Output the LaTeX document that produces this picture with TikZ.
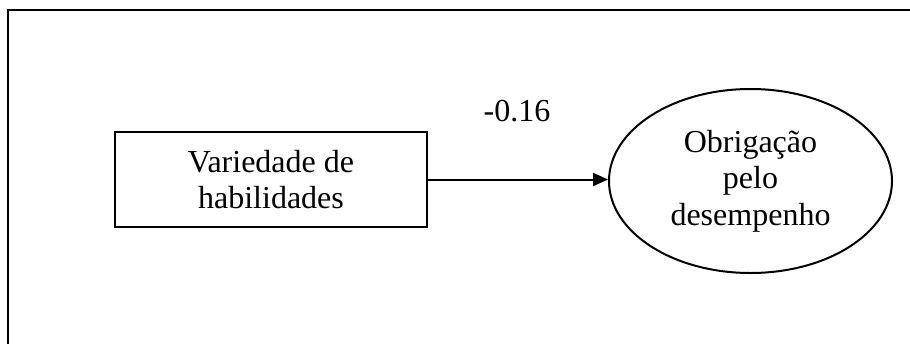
\documentclass[tikz,border=0pt]{standalone}
\usepackage{fontspec}
\setmainfont{Liberation Serif}
\usetikzlibrary{shapes.geometric,arrows.meta}
\begin{document}
\begin{tikzpicture}[x=1pt,y=-1pt,
  txt/.style={font=\fontsize{32}{36.5}\selectfont, align=center},
  boxnode/.style={txt, draw, line width=2pt, rectangle, minimum width=312pt, minimum height=95pt, inner sep=0pt},
  ellnode/.style={txt, draw, line width=2pt, ellipse, minimum width=283pt, minimum height=184pt, inner sep=0pt},
  conn/.style={line width=2pt, -{Triangle[length=15pt,width=13pt]}},
  frame/.style={line width=2.5pt}]
\useasboundingbox (0,0) rectangle (910,343);
\coordinate (f1) at (8,344);
\coordinate (f2) at (8,10);
\coordinate (f3) at (911,10);
\draw[frame] (f1) -- (f2) -- (f3);
\node[boxnode] (box) at (271,179.5) {Variedade de\\habilidades};
\node[ellnode] (ell) at (750.5,181) {Obrigação\\pelo\\desempenho};
\draw[conn] (box.east) -- (box.east -| ell.west);
\node[txt] (lbl) at (517,111) {-0.16};
\end{tikzpicture}
\end{document}
